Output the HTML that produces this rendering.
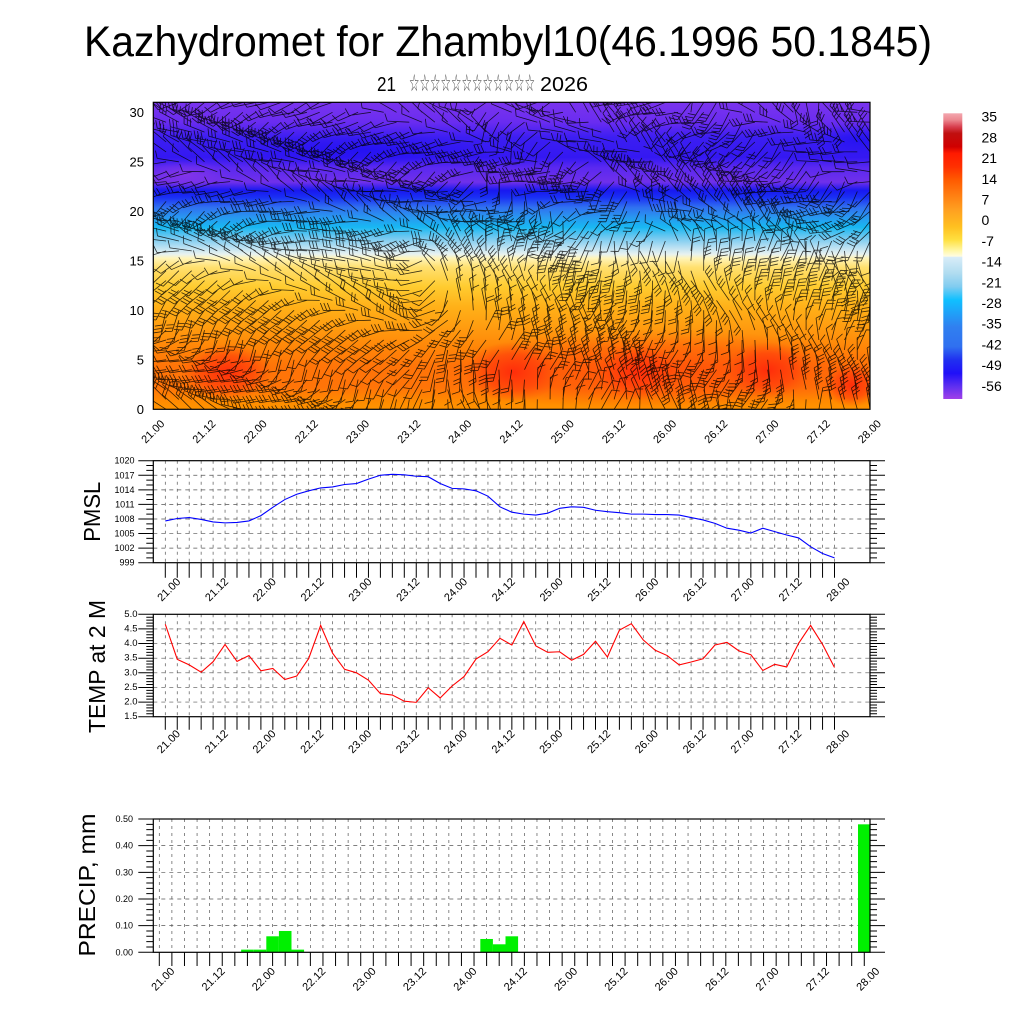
<!DOCTYPE html>
<html><head><meta charset="utf-8"><style>
html,body{margin:0;padding:0;background:#fff;}
svg{display:block;}
text{font-family:"Liberation Sans",Arial,sans-serif;fill:#000;}
</style></head><body>
<svg id="s" width="1024" height="1024" viewBox="0 0 1024 1024" xmlns="http://www.w3.org/2000/svg">
<defs>
<linearGradient id="tg" x1="0" y1="0" x2="0" y2="1">
<stop offset="0" stop-color="#7a34ee"/>
<stop offset="0.065" stop-color="#6a2cf0"/>
<stop offset="0.114" stop-color="#3c1ef2"/>
<stop offset="0.18" stop-color="#3418f2"/>
<stop offset="0.212" stop-color="#5a28f0"/>
<stop offset="0.26" stop-color="#7030ea"/>
<stop offset="0.287" stop-color="#1818f0"/>
<stop offset="0.31" stop-color="#1a30f4"/>
<stop offset="0.342" stop-color="#3070f0"/>
<stop offset="0.375" stop-color="#2898f0"/>
<stop offset="0.407" stop-color="#18b8f2"/>
<stop offset="0.44" stop-color="#70c8f0"/>
<stop offset="0.472" stop-color="#b8e0f2"/>
<stop offset="0.495" stop-color="#e8f2f0"/>
<stop offset="0.508" stop-color="#fff4b8"/>
<stop offset="0.537" stop-color="#ffe070"/>
<stop offset="0.6" stop-color="#ffcc30"/>
<stop offset="0.668" stop-color="#ffb018"/>
<stop offset="0.733" stop-color="#ff9c10"/>
<stop offset="0.798" stop-color="#ff8608"/>
<stop offset="0.863" stop-color="#ff7408"/>
<stop offset="0.928" stop-color="#ff7408"/>
<stop offset="0.977" stop-color="#ff8c00"/>
<stop offset="1" stop-color="#ff9400"/>
</linearGradient>
<radialGradient id="rs">
<stop offset="0" stop-color="#ff2a0a" stop-opacity="0.95"/>
<stop offset="0.6" stop-color="#ff3a0a" stop-opacity="0.6"/>
<stop offset="1" stop-color="#ff4a0a" stop-opacity="0"/>
</radialGradient>
<radialGradient id="rb">
<stop offset="0" stop-color="#2010f2" stop-opacity="0.8"/>
<stop offset="1" stop-color="#2010f2" stop-opacity="0"/>
</radialGradient>
<radialGradient id="rp">
<stop offset="0" stop-color="#8a36e8" stop-opacity="0.8"/>
<stop offset="1" stop-color="#8a36e8" stop-opacity="0"/>
</radialGradient>
<linearGradient id="cb" x1="0" y1="0" x2="0" y2="1">
<stop offset="0" stop-color="#f4a8b0"/>
<stop offset="0.023" stop-color="#ec8890"/>
<stop offset="0.047" stop-color="#d84050"/>
<stop offset="0.07" stop-color="#c01010"/>
<stop offset="0.117" stop-color="#d00000"/>
<stop offset="0.14" stop-color="#ff1a00"/>
<stop offset="0.187" stop-color="#ff3000"/>
<stop offset="0.233" stop-color="#ff5a00"/>
<stop offset="0.28" stop-color="#ff7a10"/>
<stop offset="0.338" stop-color="#ffa020"/>
<stop offset="0.397" stop-color="#ffc020"/>
<stop offset="0.443" stop-color="#ffe040"/>
<stop offset="0.478" stop-color="#fff6a0"/>
<stop offset="0.5" stop-color="#fffce0"/>
<stop offset="0.504" stop-color="#d8ecf8"/>
<stop offset="0.56" stop-color="#b0dcf0"/>
<stop offset="0.607" stop-color="#80ccf0"/>
<stop offset="0.653" stop-color="#10c0ff"/>
<stop offset="0.7" stop-color="#20a0f8"/>
<stop offset="0.747" stop-color="#3080f0"/>
<stop offset="0.817" stop-color="#3070f0"/>
<stop offset="0.863" stop-color="#2030f0"/>
<stop offset="0.91" stop-color="#2010f8"/>
<stop offset="0.957" stop-color="#6030f0"/>
<stop offset="1" stop-color="#a040e8"/>
</linearGradient>
<clipPath id="cp"><rect x="153.3" y="102.3" width="716.7" height="307"/></clipPath>
</defs>
<rect width="1024" height="1024" fill="#fff"/>

<!-- Title -->
<text x="508" y="56" font-size="43" text-anchor="middle" textLength="848" lengthAdjust="spacingAndGlyphs">Kazhydromet for Zhambyl10(46.1996 50.1845)</text>
<text x="377" y="91" font-size="20" textLength="19" lengthAdjust="spacingAndGlyphs">21</text>
<text x="409" y="91" font-size="24" style="font-family:'DejaVu Sans',sans-serif;fill:#444" textLength="126" lengthAdjust="spacingAndGlyphs">☆☆☆☆☆☆☆☆☆☆☆☆</text>
<text x="540" y="91" font-size="20" textLength="48" lengthAdjust="spacingAndGlyphs">2026</text>

<!-- Top contour plot -->
<g clip-path="url(#cp)">
<rect x="153.3" y="102.3" width="716.7" height="307" fill="url(#tg)"/>
<ellipse cx="185" cy="175" rx="45" ry="14" fill="url(#rp)"/>
<ellipse cx="360" cy="150" rx="130" ry="16" fill="url(#rb)"/>
<ellipse cx="860" cy="140" rx="50" ry="16" fill="url(#rb)"/>
<ellipse cx="660" cy="370" rx="230" ry="40" fill="url(#rs)" opacity="0.5"/>
<ellipse cx="227" cy="372" rx="45" ry="28" fill="url(#rs)"/>
<ellipse cx="513" cy="372" rx="48" ry="30" fill="url(#rs)"/>
<ellipse cx="638" cy="372" rx="42" ry="28" fill="url(#rs)"/>
<ellipse cx="768" cy="370" rx="44" ry="28" fill="url(#rs)"/>
<ellipse cx="852" cy="385" rx="28" ry="22" fill="url(#rs)"/>
<path id="barbs" d="" fill="none" stroke="#000" stroke-width="0.8" stroke-opacity="0.78"/>
</g>
<rect x="153.3" y="102.3" width="716.7" height="307" fill="none" stroke="#000" stroke-width="1.2"/>

<g font-size="13" text-anchor="end" dominant-baseline="central">
<text x="144" y="409.3">0</text>
<text x="144" y="359.8">5</text>
<text x="144" y="310.3">10</text>
<text x="144" y="260.8">15</text>
<text x="144" y="211.3">20</text>
<text x="144" y="161.8">25</text>
<text x="144" y="112.3">30</text>
</g>
<g font-size="11" text-anchor="middle" dominant-baseline="central">
<text transform="translate(153.3,432) rotate(-45)">21.00</text>
<text transform="translate(204.5,432) rotate(-45)">21.12</text>
<text transform="translate(255.7,432) rotate(-45)">22.00</text>
<text transform="translate(306.9,432) rotate(-45)">22.12</text>
<text transform="translate(358.1,432) rotate(-45)">23.00</text>
<text transform="translate(409.3,432) rotate(-45)">23.12</text>
<text transform="translate(460.4,432) rotate(-45)">24.00</text>
<text transform="translate(511.6,432) rotate(-45)">24.12</text>
<text transform="translate(562.8,432) rotate(-45)">25.00</text>
<text transform="translate(614.0,432) rotate(-45)">25.12</text>
<text transform="translate(665.2,432) rotate(-45)">26.00</text>
<text transform="translate(716.4,432) rotate(-45)">26.12</text>
<text transform="translate(767.6,432) rotate(-45)">27.00</text>
<text transform="translate(818.8,432) rotate(-45)">27.12</text>
<text transform="translate(870.0,432) rotate(-45)">28.00</text>
</g>

<!-- Colorbar -->
<rect x="943.3" y="113.3" width="19" height="285.7" fill="url(#cb)"/>
<g font-size="14" dominant-baseline="central">
<text x="981.5" y="116.7">35</text>
<text x="981.5" y="137.4">28</text>
<text x="981.5" y="158.1">21</text>
<text x="981.5" y="178.8">14</text>
<text x="981.5" y="199.5">7</text>
<text x="981.5" y="220.2">0</text>
<text x="981.5" y="240.9">-7</text>
<text x="981.5" y="261.6">-14</text>
<text x="981.5" y="282.3">-21</text>
<text x="981.5" y="303.0">-28</text>
<text x="981.5" y="323.7">-35</text>
<text x="981.5" y="344.4">-42</text>
<text x="981.5" y="365.1">-49</text>
<text x="981.5" y="385.8">-56</text>
</g>

<!-- Panel graphics container -->
<g id="panels"></g>

<!-- Y axis titles -->
<text transform="translate(100,511.7) rotate(-90)" font-size="23" text-anchor="middle" textLength="60" lengthAdjust="spacingAndGlyphs">PMSL</text>
<text transform="translate(105,666.5) rotate(-90)" font-size="23" text-anchor="middle" textLength="133" lengthAdjust="spacingAndGlyphs">TEMP at 2 M</text>
<text transform="translate(95,885) rotate(-90)" font-size="23" text-anchor="middle" textLength="143" lengthAdjust="spacingAndGlyphs">PRECIP, mm</text>

<!-- PMSL y labels -->
<g font-size="9" text-anchor="end" dominant-baseline="central">
<text x="134.5" y="460.7">1020</text>
<text x="134.5" y="475.3">1017</text>
<text x="134.5" y="489.8">1014</text>
<text x="134.5" y="504.4">1011</text>
<text x="134.5" y="519.0">1008</text>
<text x="134.5" y="533.6">1005</text>
<text x="134.5" y="548.1">1002</text>
<text x="134.5" y="562.7">999</text>
</g>
<!-- TEMP y labels -->
<g font-size="9.5" text-anchor="end" dominant-baseline="central">
<text x="137.5" y="614.3">5.0</text>
<text x="137.5" y="628.9">4.5</text>
<text x="137.5" y="643.6">4.0</text>
<text x="137.5" y="658.2">3.5</text>
<text x="137.5" y="672.8">3.0</text>
<text x="137.5" y="687.5">2.5</text>
<text x="137.5" y="702.1">2.0</text>
<text x="137.5" y="716.7">1.5</text>
</g>
<!-- PRECIP y labels -->
<g font-size="9" text-anchor="end" dominant-baseline="central">
<text x="133" y="819">0.50</text>
<text x="133" y="845.7">0.40</text>
<text x="133" y="872.3">0.30</text>
<text x="133" y="899">0.20</text>
<text x="133" y="925.6">0.10</text>
<text x="133" y="952.3">0.00</text>
</g>

<!-- PMSL x labels -->
<g font-size="11" text-anchor="middle" dominant-baseline="central">
<text transform="translate(169.3,590) rotate(-45)">21.00</text>
<text transform="translate(217.1,590) rotate(-45)">21.12</text>
<text transform="translate(264.9,590) rotate(-45)">22.00</text>
<text transform="translate(312.7,590) rotate(-45)">22.12</text>
<text transform="translate(360.5,590) rotate(-45)">23.00</text>
<text transform="translate(408.3,590) rotate(-45)">23.12</text>
<text transform="translate(456.1,590) rotate(-45)">24.00</text>
<text transform="translate(503.9,590) rotate(-45)">24.12</text>
<text transform="translate(551.7,590) rotate(-45)">25.00</text>
<text transform="translate(599.5,590) rotate(-45)">25.12</text>
<text transform="translate(647.3,590) rotate(-45)">26.00</text>
<text transform="translate(695.1,590) rotate(-45)">26.12</text>
<text transform="translate(742.9,590) rotate(-45)">27.00</text>
<text transform="translate(790.7,590) rotate(-45)">27.12</text>
<text transform="translate(838.5,590) rotate(-45)">28.00</text>
</g>
<!-- TEMP x labels -->
<g font-size="11" text-anchor="middle" dominant-baseline="central">
<text transform="translate(169.0,742) rotate(-45)">21.00</text>
<text transform="translate(216.8,742) rotate(-45)">21.12</text>
<text transform="translate(264.6,742) rotate(-45)">22.00</text>
<text transform="translate(312.4,742) rotate(-45)">22.12</text>
<text transform="translate(360.2,742) rotate(-45)">23.00</text>
<text transform="translate(408.0,742) rotate(-45)">23.12</text>
<text transform="translate(455.8,742) rotate(-45)">24.00</text>
<text transform="translate(503.6,742) rotate(-45)">24.12</text>
<text transform="translate(551.4,742) rotate(-45)">25.00</text>
<text transform="translate(599.2,742) rotate(-45)">25.12</text>
<text transform="translate(647.0,742) rotate(-45)">26.00</text>
<text transform="translate(694.8,742) rotate(-45)">26.12</text>
<text transform="translate(742.6,742) rotate(-45)">27.00</text>
<text transform="translate(790.4,742) rotate(-45)">27.12</text>
<text transform="translate(838.2,742) rotate(-45)">28.00</text>
</g>
<!-- PRECIP x labels -->
<g font-size="11" text-anchor="middle" dominant-baseline="central">
<text transform="translate(163.3,979.5) rotate(-45)">21.00</text>
<text transform="translate(213.7,979.5) rotate(-45)">21.12</text>
<text transform="translate(264.0,979.5) rotate(-45)">22.00</text>
<text transform="translate(314.4,979.5) rotate(-45)">22.12</text>
<text transform="translate(364.7,979.5) rotate(-45)">23.00</text>
<text transform="translate(415.1,979.5) rotate(-45)">23.12</text>
<text transform="translate(465.5,979.5) rotate(-45)">24.00</text>
<text transform="translate(515.8,979.5) rotate(-45)">24.12</text>
<text transform="translate(566.2,979.5) rotate(-45)">25.00</text>
<text transform="translate(616.5,979.5) rotate(-45)">25.12</text>
<text transform="translate(666.9,979.5) rotate(-45)">26.00</text>
<text transform="translate(717.3,979.5) rotate(-45)">26.12</text>
<text transform="translate(767.6,979.5) rotate(-45)">27.00</text>
<text transform="translate(818.0,979.5) rotate(-45)">27.12</text>
<text transform="translate(868.3,979.5) rotate(-45)">28.00</text>
</g>
</svg>
<script>
(function(){
var NS='http://www.w3.org/2000/svg';
var G=document.getElementById('panels');
function el(tag,a,p){var e=document.createElementNS(NS,tag);for(var k in a)e.setAttribute(k,a[k]);(p||G).appendChild(e);return e;}
function f(v){return v.toFixed(2);}

/* Wind barbs */
var d='';
var L=153.3,B=409.3;
function sm(t){t=Math.max(0,Math.min(1,t));return t*t*(3-2*t);}
function mix(a,b,w){var x=(1-w)*Math.cos(a)+w*Math.cos(b),y=(1-w)*Math.sin(a)+w*Math.sin(b);return Math.atan2(y,x);}
for(var c=0;c<57;c++){
 for(var r=0;r<=31;r++){
  var u=c/56,h=r;
  var x=L+12.8*c,y=B-9.9*r;
  var aUp=Math.PI+0.55*Math.sin(u*13+h*0.5)+0.35*Math.sin(u*37+h*1.7);
  var aLL=Math.PI*0.9+0.8*Math.sin(u*9+h*0.33+1)+0.3*Math.sin(u*29+h*1.1);
  var s=Math.sin(u*17+h*0.2)>0?1:-1;
  var aLR=s*Math.PI/2+0.4*Math.sin(u*23+h*0.5)+0.25*Math.sin(u*51+h*1.3);
  var wu=sm((h-15)/5);
  if(u>0.45 && h>18 && Math.sin(u*40+h*0.9)>0.3) wu*=0.3;
  var a=mix(mix(aLL,aLR,sm((u-0.33)/0.12)),aUp,wu);
  var len=22;
  var ex=x+len*Math.cos(a),ey=y+len*Math.sin(a);
  d+='M'+f(x)+' '+f(y)+'L'+f(ex)+' '+f(ey);
  var nf=1+Math.floor(2.99*(0.5+0.5*Math.sin(u*7+h*0.7)));
  var fa=a+1.2;
  for(var k=0;k<nf;k++){
   var bx=x+(len-k*3.5)*Math.cos(a),by=y+(len-k*3.5)*Math.sin(a);
   d+='M'+f(bx)+' '+f(by)+'l'+f(8*Math.cos(fa))+' '+f(8*Math.sin(fa));
  }
 }
}
document.getElementById('barbs').setAttribute('d',d);

/* Panels */
function panel(P){
 var gh='',gv='',tk='';
 var yv=function(v){return P.B-(v-P.vmin)/(P.vmax-P.vmin)*(P.B-P.T);};
 var i,v,y,x;
 for(v=P.vmin+P.maj;v<P.vmax-1e-6;v+=P.maj){y=yv(v);gh+='M'+P.L+' '+f(y)+'H'+P.R;}
 for(i=0;i<57;i++){x=P.x0+P.dx*i;gv+='M'+f(x)+' '+P.T+'V'+P.B;tk+='M'+f(x)+' '+P.B+'V'+(P.B+P.tl);}
 el('path',{d:gh,fill:'none',stroke:'#555','stroke-width':'0.7','stroke-dasharray':'4 4'});
 el('path',{d:gv,fill:'none',stroke:'#555','stroke-width':'0.7','stroke-dasharray':'3 4'});
 if(P.bars){
  P.bars.forEach(function(b){var xc=P.x0+P.dx*b[0];var yt=yv(b[1]);
   el('rect',{x:f(xc-P.dx/2),y:f(yt),width:f(P.dx),height:f(P.B-yt),fill:'#00f000'});});
 }
 if(P.data){
  var pts=P.data.map(function(v,i){return f(P.x0+P.dx*i)+','+f(yv(v));}).join(' ');
  el('polyline',{points:pts,fill:'none',stroke:P.col,'stroke-width':'1.1'});
 }
 var n=Math.round((P.vmax-P.vmin)/P.mn);
 for(i=0;i<=n;i++){
  v=P.vmin+i*P.mn;y=yv(v);
  var maj=Math.abs(((v-P.vmin)/P.maj)-Math.round((v-P.vmin)/P.maj))<1e-4;
  var l=maj?15:7;
  tk+='M'+(P.L-l)+' '+f(y)+'H'+P.L+'M'+P.R+' '+f(y)+'H'+(P.R+l);
 }
 el('path',{d:tk,fill:'none',stroke:'#000','stroke-width':'1'});
 el('rect',{x:P.L,y:P.T,width:f(P.R-P.L),height:f(P.B-P.T),fill:'none',stroke:'#000','stroke-width':'1.2'});
}
var pm=[1007.6,1008.1,1008.3,1007.9,1007.4,1007.2,1007.3,1007.6,1008.7,1010.4,1012.0,1013.1,1013.8,1014.4,1014.6,1015.1,1015.3,1016.2,1017.0,1017.2,1017.1,1016.8,1016.7,1015.3,1014.3,1014.2,1013.8,1012.7,1010.5,1009.4,1009.0,1008.8,1009.2,1010.2,1010.5,1010.4,1009.8,1009.5,1009.3,1009.0,1009.0,1008.9,1008.9,1008.8,1008.3,1007.8,1007.1,1006.1,1005.7,1005.1,1006.1,1005.4,1004.7,1004.1,1002.3,1000.9,1000.0];
var tp=[4.66,3.46,3.27,3.02,3.38,3.97,3.39,3.59,3.07,3.15,2.77,2.89,3.49,4.62,3.67,3.12,3.00,2.75,2.29,2.24,2.03,1.99,2.49,2.14,2.55,2.87,3.47,3.72,4.18,3.95,4.75,3.92,3.70,3.72,3.43,3.63,4.08,3.54,4.46,4.68,4.12,3.77,3.59,3.27,3.37,3.48,3.95,4.04,3.75,3.62,3.08,3.29,3.20,4.01,4.62,3.97,3.18];
panel({L:153.3,R:870,T:460.7,B:562.7,x0:165.3,dx:11.95,vmin:999,vmax:1020,maj:3,mn:1,tl:15,data:pm,col:'#0000ff'});
panel({L:153.3,R:870,T:614.3,B:716.7,x0:165.3,dx:11.95,vmin:1.5,vmax:5,maj:0.5,mn:0.1,tl:13,data:tp,col:'#ff0000'});
panel({L:153.3,R:870,T:819,B:952.3,x0:159.3,dx:12.589,vmin:0,vmax:0.5,maj:0.1,mn:0.02,tl:13.7,
 bars:[[7,0.01],[8,0.01],[9,0.06],[10,0.08],[11,0.01],[26,0.05],[27,0.03],[28,0.06],[56,0.48]]});
})();
</script>
</body></html>
